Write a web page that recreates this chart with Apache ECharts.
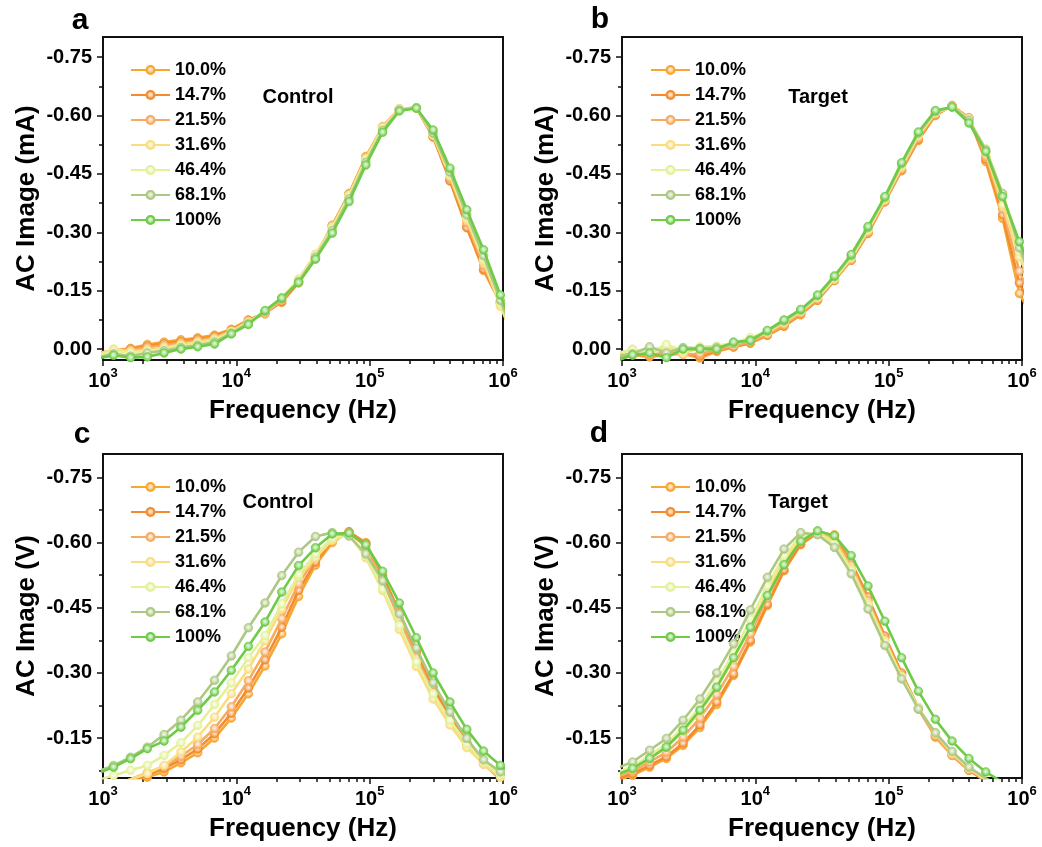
<!DOCTYPE html>
<html>
<head>
<meta charset="utf-8">
<script src="https://cdn.jsdelivr.net/npm/echarts@6/dist/echarts.min.js"></script>
<style>
html,body{margin:0;padding:0;background:#fff;}
#chart{width:1042px;height:847px;}
</style>
</head>
<body>
<div id="chart"></div>
<script>
// ---------------- data ----------------
const seriesNames = ['10.0%', '14.7%', '21.5%', '31.6%', '46.4%', '68.1%', '100%'];
const seriesColors = ['#F8A531', '#F38C2E', '#F6AB62', '#F9DD7E', '#E4F19B', '#ADC883', '#6DCB47'];
const freq = [897, 1200, 1610, 2150, 2870, 3840, 5130, 6860, 9170, 12300, 16400, 21900, 29300, 39200, 52400, 70000, 93600, 125000, 167000, 224000, 299000, 400000, 535000, 715000, 956000, 1278000];
const xTickValues = [1000, 10000, 100000, 1000000];
const xMinorValues = [2000,3000,4000,5000,6000,7000,8000,9000,20000,30000,40000,50000,60000,70000,80000,90000,200000,300000,400000,500000,600000,700000,800000,900000];
const yTickValuesAB = [-0.75, -0.60, -0.45, -0.30, -0.15, 0.00];
const yMinorValuesAB = [-0.675, -0.525, -0.375, -0.225, -0.075];
const yTickValuesCD = [-0.75, -0.60, -0.45, -0.30, -0.15];
const yMinorValuesCD = [-0.675, -0.525, -0.375, -0.225, -0.075];

// Panel a (Control, mA)
const a_10_0 = [0.010, 0.004, -0.002, -0.012, -0.018, -0.024, -0.029, -0.036, -0.051, -0.075, -0.093, -0.120, -0.170, -0.233, -0.315, -0.400, -0.495, -0.568, -0.615, -0.620, -0.546, -0.435, -0.315, -0.202, -0.118, -0.015];
const a_14_7 = [0.012, 0.006, 0.000, -0.008, -0.014, -0.020, -0.026, -0.033, -0.049, -0.074, -0.092, -0.122, -0.172, -0.236, -0.318, -0.398, -0.492, -0.570, -0.616, -0.620, -0.545, -0.432, -0.312, -0.205, -0.122, -0.015];
const a_21_5 = [0.012, 0.004, 0.002, -0.004, -0.010, -0.016, -0.022, -0.030, -0.047, -0.072, -0.090, -0.125, -0.176, -0.240, -0.318, -0.398, -0.492, -0.572, -0.618, -0.620, -0.548, -0.440, -0.325, -0.215, -0.118, -0.010];
const a_31_6 = [0.015, 0.000, 0.006, 0.002, -0.004, -0.012, -0.018, -0.026, -0.046, -0.070, -0.095, -0.130, -0.180, -0.244, -0.314, -0.396, -0.490, -0.570, -0.618, -0.620, -0.550, -0.445, -0.333, -0.225, -0.110, -0.005];
const a_46_4 = [0.018, 0.004, 0.010, 0.006, 0.000, -0.008, -0.014, -0.022, -0.043, -0.068, -0.098, -0.133, -0.178, -0.240, -0.310, -0.392, -0.486, -0.566, -0.616, -0.620, -0.552, -0.450, -0.340, -0.232, -0.118, -0.010];
const a_68_1 = [0.022, 0.012, 0.018, 0.010, 0.004, -0.004, -0.010, -0.018, -0.041, -0.066, -0.096, -0.130, -0.174, -0.236, -0.305, -0.386, -0.480, -0.562, -0.614, -0.620, -0.555, -0.455, -0.345, -0.240, -0.125, -0.015];
const a_100 = [0.025, 0.016, 0.022, 0.020, 0.010, 0.000, -0.006, -0.013, -0.039, -0.063, -0.099, -0.131, -0.171, -0.231, -0.298, -0.379, -0.473, -0.557, -0.612, -0.619, -0.563, -0.465, -0.358, -0.255, -0.139, -0.025];

// Panel b (Target, mA)
const b_10_0 = [0.030, 0.015, 0.020, 0.015, 0.012, 0.023, 0.006, -0.005, -0.015, -0.035, -0.058, -0.088, -0.125, -0.176, -0.228, -0.297, -0.378, -0.458, -0.536, -0.600, -0.626, -0.594, -0.482, -0.336, -0.143, -0.060];
const b_14_7 = [0.025, 0.012, 0.016, 0.012, 0.010, 0.018, 0.004, -0.006, -0.016, -0.036, -0.060, -0.090, -0.126, -0.177, -0.229, -0.298, -0.379, -0.460, -0.538, -0.602, -0.625, -0.593, -0.488, -0.345, -0.170, -0.080];
const b_21_5 = [0.020, 0.010, 0.015, 0.008, 0.014, 0.012, 0.002, -0.008, -0.018, -0.038, -0.062, -0.092, -0.128, -0.178, -0.230, -0.300, -0.380, -0.462, -0.542, -0.604, -0.625, -0.595, -0.495, -0.360, -0.200, -0.100];
const b_31_6 = [0.015, 0.000, 0.010, -0.006, 0.012, -0.004, -0.006, -0.012, -0.026, -0.042, -0.068, -0.097, -0.132, -0.180, -0.234, -0.305, -0.384, -0.468, -0.548, -0.606, -0.623, -0.592, -0.505, -0.370, -0.237, -0.130];
const b_46_4 = [0.010, 0.002, 0.008, -0.012, 0.004, -0.006, -0.008, -0.016, -0.030, -0.046, -0.070, -0.098, -0.134, -0.182, -0.236, -0.308, -0.386, -0.472, -0.552, -0.608, -0.622, -0.590, -0.515, -0.400, -0.250, -0.140];
const b_68_1 = [0.020, 0.012, -0.006, 0.010, -0.004, -0.002, -0.004, -0.014, -0.024, -0.046, -0.072, -0.100, -0.137, -0.186, -0.240, -0.312, -0.389, -0.476, -0.555, -0.610, -0.622, -0.588, -0.512, -0.400, -0.260, -0.150];
const b_100 = [0.030, 0.015, 0.010, 0.022, 0.000, 0.000, 0.000, -0.018, -0.022, -0.048, -0.075, -0.102, -0.139, -0.188, -0.243, -0.315, -0.392, -0.479, -0.558, -0.613, -0.622, -0.581, -0.508, -0.392, -0.276, -0.170];

// Panel c (Control, V)
const c_10_0 = [-0.010, -0.030, -0.045, -0.060, -0.072, -0.093, -0.116, -0.150, -0.196, -0.252, -0.316, -0.390, -0.476, -0.548, -0.600, -0.625, -0.600, -0.520, -0.435, -0.345, -0.262, -0.195, -0.138, -0.092, -0.055, -0.030];
const c_14_7 = [-0.020, -0.035, -0.050, -0.065, -0.080, -0.100, -0.125, -0.160, -0.207, -0.265, -0.330, -0.405, -0.490, -0.555, -0.605, -0.625, -0.598, -0.525, -0.440, -0.350, -0.268, -0.198, -0.140, -0.093, -0.056, -0.030];
const c_21_5 = [-0.025, -0.040, -0.055, -0.070, -0.085, -0.108, -0.135, -0.172, -0.222, -0.282, -0.348, -0.425, -0.505, -0.565, -0.610, -0.623, -0.590, -0.512, -0.425, -0.335, -0.255, -0.190, -0.135, -0.090, -0.055, -0.030];
const c_31_6 = [-0.030, -0.042, -0.055, -0.068, -0.087, -0.118, -0.152, -0.198, -0.252, -0.309, -0.374, -0.447, -0.520, -0.565, -0.605, -0.620, -0.565, -0.490, -0.400, -0.315, -0.240, -0.180, -0.128, -0.090, -0.060, -0.040];
const c_46_4 = [-0.052, -0.064, -0.076, -0.087, -0.110, -0.139, -0.179, -0.227, -0.277, -0.335, -0.386, -0.459, -0.526, -0.574, -0.610, -0.617, -0.570, -0.493, -0.409, -0.325, -0.252, -0.191, -0.137, -0.095, -0.065, -0.045];
const c_68_1 = [-0.072, -0.087, -0.106, -0.129, -0.158, -0.191, -0.233, -0.283, -0.339, -0.404, -0.461, -0.524, -0.578, -0.614, -0.623, -0.615, -0.574, -0.512, -0.436, -0.357, -0.277, -0.210, -0.149, -0.100, -0.072, -0.050];
const c_100 = [-0.068, -0.083, -0.1025, -0.1255, -0.143, -0.175, -0.214, -0.256, -0.306, -0.361, -0.417, -0.486, -0.547, -0.588, -0.620, -0.622, -0.595, -0.534, -0.461, -0.381, -0.300, -0.233, -0.170, -0.120, -0.087, -0.060];

// Panel d (Target, V)
const d_10_0 = [-0.052, -0.064, -0.083, -0.103, -0.133, -0.174, -0.227, -0.294, -0.371, -0.455, -0.535, -0.595, -0.622, -0.618, -0.551, -0.471, -0.382, -0.298, -0.217, -0.152, -0.110, -0.076, -0.050, -0.033, -0.020, -0.012];
const d_14_7 = [-0.055, -0.068, -0.087, -0.107, -0.138, -0.180, -0.233, -0.298, -0.375, -0.458, -0.537, -0.597, -0.623, -0.615, -0.555, -0.475, -0.385, -0.300, -0.220, -0.155, -0.110, -0.076, -0.051, -0.034, -0.020, -0.012];
const d_21_5 = [-0.060, -0.074, -0.095, -0.117, -0.152, -0.196, -0.250, -0.315, -0.390, -0.472, -0.548, -0.603, -0.624, -0.610, -0.548, -0.466, -0.378, -0.294, -0.217, -0.155, -0.110, -0.077, -0.052, -0.035, -0.021, -0.012];
const d_31_6 = [-0.065, -0.080, -0.104, -0.128, -0.165, -0.210, -0.266, -0.332, -0.407, -0.487, -0.560, -0.610, -0.624, -0.602, -0.540, -0.460, -0.374, -0.292, -0.220, -0.160, -0.115, -0.080, -0.054, -0.036, -0.022, -0.013];
const d_46_4 = [-0.070, -0.085, -0.110, -0.136, -0.175, -0.222, -0.280, -0.347, -0.423, -0.500, -0.570, -0.615, -0.622, -0.595, -0.535, -0.455, -0.370, -0.290, -0.220, -0.163, -0.118, -0.082, -0.056, -0.037, -0.023, -0.014];
const d_68_1 = [-0.080, -0.095, -0.122, -0.149, -0.191, -0.240, -0.300, -0.367, -0.445, -0.520, -0.585, -0.623, -0.618, -0.589, -0.528, -0.447, -0.363, -0.286, -0.217, -0.162, -0.119, -0.083, -0.057, -0.038, -0.024, -0.015];
const d_100 = [-0.065, -0.080, -0.103, -0.129, -0.168, -0.214, -0.267, -0.335, -0.405, -0.478, -0.549, -0.603, -0.627, -0.616, -0.570, -0.500, -0.419, -0.335, -0.258, -0.193, -0.143, -0.103, -0.072, -0.048, -0.030, -0.018];

const panelData = [
  [a_10_0, a_14_7, a_21_5, a_31_6, a_46_4, a_68_1, a_100],
  [b_10_0, b_14_7, b_21_5, b_31_6, b_46_4, b_68_1, b_100],
  [c_10_0, c_14_7, c_21_5, c_31_6, c_46_4, c_68_1, c_100],
  [d_10_0, d_14_7, d_21_5, d_31_6, d_46_4, d_68_1, d_100]
];
const panelLetters = ['a', 'b', 'c', 'd'];
const panelNotes = ['Control', 'Target', 'Control', 'Target'];
const yTitles = ['AC Image (mA)', 'AC Image (mA)', 'AC Image (V)', 'AC Image (V)'];
const xTitle = 'Frequency (Hz)';

// ---------------- layout ----------------
const FONT = '"Liberation Sans", Arial, sans-serif';
const panels = [
  {left: 103, top: 37, width: 400, height: 323, ymin: -0.802, ymax: 0.028, ticks: yTickValuesAB, minor: yMinorValuesAB,
   legendLeft: 130, legendTop: 61, note: [298, 97], letter: [80, 21]},
  {left: 622, top: 37, width: 400, height: 323, ymin: -0.802, ymax: 0.028, ticks: yTickValuesAB, minor: yMinorValuesAB,
   legendLeft: 650, legendTop: 61, note: [818, 97], letter: [600, 20]},
  {left: 103, top: 454, width: 400, height: 324, ymin: -0.804, ymax: -0.058, ticks: yTickValuesCD, minor: yMinorValuesCD,
   legendLeft: 130, legendTop: 478, note: [278, 502], letter: [82, 435]},
  {left: 622, top: 454, width: 400, height: 324, ymin: -0.804, ymax: -0.058, ticks: yTickValuesCD, minor: yMinorValuesCD,
   legendLeft: 650, legendTop: 478, note: [798, 502], letter: [599, 434]}
];

function lighten(hex, t) {
  const n = parseInt(hex.slice(1), 16);
  const r = (n >> 16) & 255, g = (n >> 8) & 255, b = n & 255;
  const f = c => Math.round(c + (255 - c) * t);
  return 'rgb(' + f(r) + ',' + f(g) + ',' + f(b) + ')';
}
function markerFill(hex) {
  return {type: 'radial', x: 0.5, y: 0.45, r: 0.55,
    colorStops: [{offset: 0, color: lighten(hex, 0.85)}, {offset: 0.35, color: lighten(hex, 0.55)}, {offset: 0.8, color: hex}, {offset: 1, color: hex}]};
}

const grid = [], xAxis = [], yAxis = [], series = [], legend = [], graphic = [];
const axisColor = '#111';

panels.forEach((p, pi) => {
  grid.push({left: p.left, top: p.top, width: p.width, height: p.height, show: true,
    borderColor: axisColor, borderWidth: 2, backgroundColor: 'transparent', containLabel: false});
  // main x (log)
  xAxis.push({
    type: 'log', logBase: 10, min: 1000, max: 1000000, gridIndex: pi,
    name: xTitle, nameLocation: 'middle', nameGap: 38,
    nameTextStyle: {fontSize: 26, fontWeight: 'bold', fontFamily: FONT, color: '#000'},
    axisLine: {show: true, onZero: false, lineStyle: {color: axisColor, width: 2}},
    axisTick: {show: true, inside: false, length: 6, customValues: xTickValues, lineStyle: {color: axisColor, width: 1.5}},
    axisLabel: {show: true, margin: 7, customValues: xTickValues,
      formatter: v => '{b|10}{s|' + Math.round(Math.log10(v)) + '}',
      rich: {
        b: {fontSize: 20, fontWeight: 'bold', fontFamily: FONT, color: '#000', lineHeight: 24, verticalAlign: 'bottom'},
        s: {fontSize: 13, fontWeight: 'bold', fontFamily: FONT, color: '#000', lineHeight: 13, verticalAlign: 'top'}
      }},
    splitLine: {show: false}, minorTick: {show: false}
  });
  // minor x ticks
  xAxis.push({
    type: 'log', logBase: 10, min: 1000, max: 1000000, gridIndex: pi, position: 'bottom', offset: 0,
    axisLine: {show: false, onZero: false},
    axisTick: {show: true, inside: false, length: 4, customValues: xMinorValues, lineStyle: {color: axisColor, width: 1.5}},
    axisLabel: {show: false}, splitLine: {show: false}
  });
  // main y
  yAxis.push({
    type: 'value', inverse: true, min: p.ymin, max: p.ymax, gridIndex: pi,
    name: yTitles[pi], nameLocation: 'middle', nameGap: 63, nameRotate: 90,
    nameTextStyle: {fontSize: 26, fontWeight: 'bold', fontFamily: FONT, color: '#000'},
    axisLine: {show: true, onZero: false, lineStyle: {color: axisColor, width: 2}},
    axisTick: {show: true, length: 6, customValues: p.ticks, lineStyle: {color: axisColor, width: 1.5}},
    axisLabel: {show: true, margin: 11, customValues: p.ticks, formatter: v => v.toFixed(2),
      fontSize: 20, fontWeight: 'bold', fontFamily: FONT, color: '#000'},
    splitLine: {show: false}
  });
  // minor y ticks
  yAxis.push({
    type: 'value', inverse: true, min: p.ymin, max: p.ymax, gridIndex: pi, position: 'left', offset: 0,
    axisLine: {show: false, onZero: false},
    axisTick: {show: true, length: 4, customValues: p.minor, lineStyle: {color: axisColor, width: 1.5}},
    axisLabel: {show: false}, splitLine: {show: false}
  });

  panelData[pi].forEach((vals, si) => {
    series.push({
      type: 'line', name: seriesNames[si], xAxisIndex: 2 * pi, yAxisIndex: 2 * pi,
      data: freq.map((f, k) => [f, vals[k]]),
      symbol: 'circle', symbolSize: 8.5, showSymbol: true, clip: true,
      lineStyle: {color: seriesColors[si], width: 2.6},
      itemStyle: {color: markerFill(seriesColors[si]), borderColor: seriesColors[si], borderWidth: 0.8},
      z: 2 + si, animation: false
    });
  });

  legend.push({
    orient: 'vertical', left: p.legendLeft, top: p.legendTop, padding: 0,
    itemWidth: 39, itemHeight: 10, itemGap: 7,
    data: seriesNames,
    textStyle: {fontSize: 18, fontWeight: 'bold', fontFamily: FONT, color: '#000', lineHeight: 18},
    selectedMode: false
  });

  graphic.push({type: 'text', x: p.note[0], y: p.note[1], z: 100,
    style: {text: panelNotes[pi], fill: '#000', font: 'bold 20px ' + FONT, textAlign: 'center', textVerticalAlign: 'middle'}});
  graphic.push({type: 'text', x: p.letter[0], y: p.letter[1], z: 100,
    style: {text: panelLetters[pi], fill: '#000', font: 'bold 30px ' + FONT, textAlign: 'center', textVerticalAlign: 'middle'}});
});

const chart = echarts.init(document.getElementById('chart'), null, {renderer: 'canvas'});
chart.setOption({
  backgroundColor: '#fff',
  animation: false,
  grid, xAxis, yAxis, series, legend, graphic
});
</script>
</body>
</html>
